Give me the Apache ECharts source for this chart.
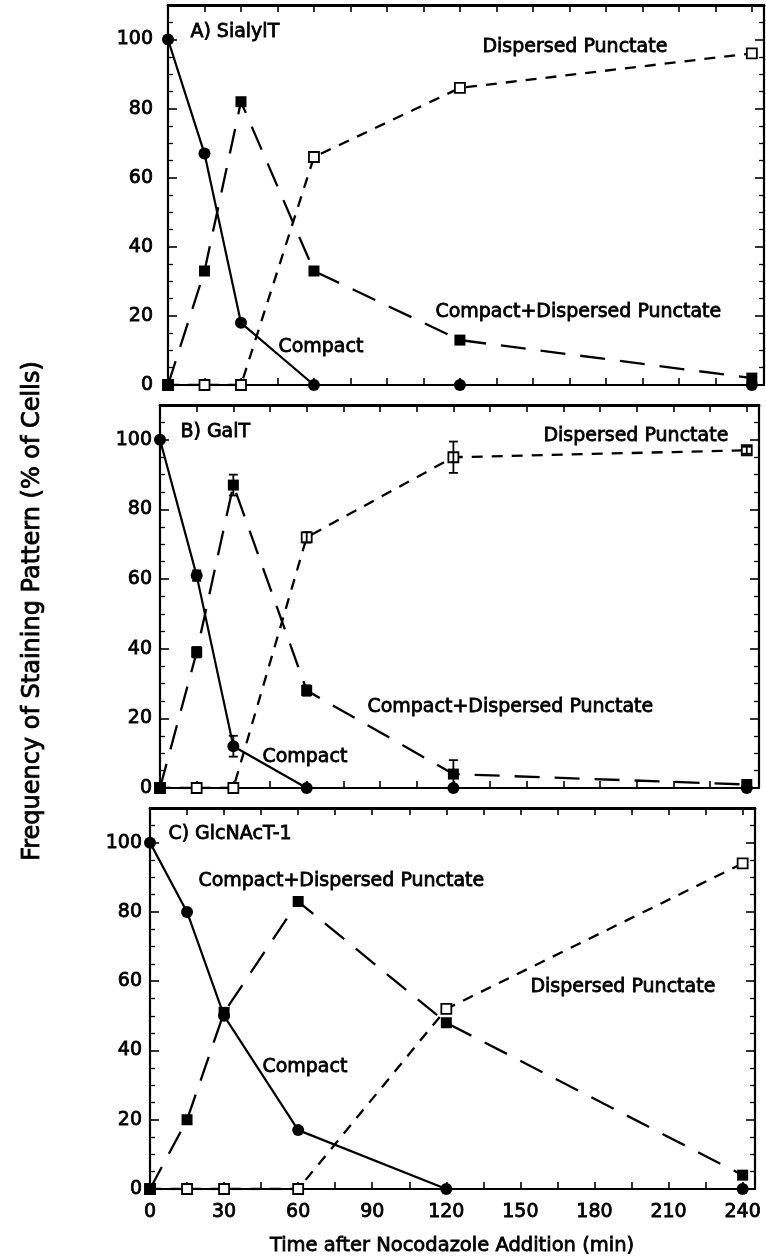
<!DOCTYPE html>
<html>
<head>
<meta charset="utf-8">
<script src="https://cdn.jsdelivr.net/npm/echarts@6/dist/echarts.min.js"></script>
<style>
  html, body { margin: 0; padding: 0; background: #fff; }
  #chart { width: 766px; height: 1257px; }
</style>
</head>
<body>
<div id="chart"></div>
<script>
// Sampling times after nocodazole addition (min)
const times = [0, 15, 30, 60, 120, 240];
const xTickLabels = [0, 30, 60, 90, 120, 150, 180, 210, 240];
const yTickLabels = [0, 20, 40, 60, 80, 100];

// A) SialylT — % of cells per staining pattern
const sialCompact = [100, 67, 18, 0, 0, 0];
const sialMixed   = [0, 33, 82, 33, 13, 2];
const sialDispersed = [0, 0, 0, 66, 86, 96];

// B) GalT
const galCompact = [100, 61, 12, 0, 0, 0];
const galMixed   = [0, 39, 87, 28, 4, 1];
const galDispersed = [0, 0, 0, 72, 95, 97];
// B) error bar half-widths
const galCompactErr = [0, 1.5, 3, 0, 0, 0];
const galMixedErr   = [0, 1.5, 3, 1.5, 4, 1];
const galDispersedErr = [0, 0, 0, 1.5, 4.5, 1];

// C) GlcNAcT-1
const glcCompact = [100, 80, 50, 17, 0, 0];
const glcMixed   = [0, 20, 51, 83, 48, 4];
const glcDispersed = [0, 0, 0, 0, 52, 94];

const panelTitles = ['A) SialylT', 'B) GalT', 'C) GlcNAcT-1'];
const nameCompact = 'Compact';
const nameMixed = 'Compact+Dispersed Punctate';
const nameDispersed = 'Dispersed Punctate';

const FONT = 'DejaVu Sans';
const INK = '#000';
const TEXT_STROKE = 0.8;   // thickens the regular face slightly

const panels = [
  { compact: sialCompact, mixed: sialMixed, dispersed: sialDispersed },
  { compact: galCompact, mixed: galMixed, dispersed: galDispersed,
    errs: [galCompactErr, galMixedErr, galDispersedErr] },
  { compact: glcCompact, mixed: glcMixed, dispersed: glcDispersed }
];

// Panel frames (pixel boxes) and y label gaps
const grids = [
  { left: 168, right: 2,  top: 5,   height: 380 },
  { left: 160, right: 7,  top: 405, height: 383 },
  { left: 150, right: 11, top: 808, height: 381 }
];
const yLabelMargins = [15, 8, 8];

const pairs = v => times.map((t, i) => [t, v[i]]);

const labelStyle = {
  color: INK, fontFamily: FONT, fontSize: 19,
  textBorderColor: INK, textBorderWidth: TEXT_STROKE
};

const xAxes = [], yAxes = [], series = [];
grids.forEach((g, gi) => {
  const isLast = gi === grids.length - 1;
  const baseX = {
    gridIndex: gi, type: 'value', min: 0, max: 245, interval: 15,
    axisLine: { show: true, onZero: false, lineStyle: { color: INK, width: 2.2 } },
    axisTick: { show: true, inside: true, length: 7, lineStyle: { color: INK, width: 1.6 } },
    splitLine: { show: false }
  };
  xAxes.push(Object.assign({}, baseX, {
    position: 'bottom',
    axisLabel: Object.assign({
      show: isLast, margin: 14,
      formatter: v => (xTickLabels.indexOf(v) >= 0 ? String(v) : '')
    }, labelStyle)
  }));
  xAxes.push(Object.assign({}, baseX, { position: 'top', axisLabel: { show: false },
    axisLine: { show: true, onZero: false, lineStyle: { color: INK, width: 2.8 } } }));

  const baseY = {
    gridIndex: gi, type: 'value', min: 0, max: 110, interval: 20,
    axisLine: { show: true, onZero: false, lineStyle: { color: INK, width: 2.2 } },
    axisTick: { show: true, inside: true, length: 9, lineStyle: { color: INK, width: 1.6 } },
    minorTick: { show: true, splitNumber: 4, length: 5, lineStyle: { color: INK, width: 1.3 } },
    splitLine: { show: false }, minorSplitLine: { show: false }
  };
  yAxes.push(Object.assign({}, baseY, {
    position: 'left',
    axisLabel: Object.assign({
      margin: yLabelMargins[gi],
      formatter: v => (yTickLabels.indexOf(v) >= 0 ? String(v) : '')
    }, labelStyle)
  }));
  yAxes.push(Object.assign({}, baseY, { position: 'right', axisLabel: { show: false } }));

  const p = panels[gi];
  const xi = gi * 2, yi = gi * 2;
  series.push({
    name: nameDispersed, type: 'line', xAxisIndex: xi, yAxisIndex: yi,
    data: pairs(p.dispersed), symbol: 'rect', symbolSize: 10,
    itemStyle: { color: '#fff', borderColor: INK, borderWidth: 1.8 },
    lineStyle: { color: INK, width: 2.3, type: [11, 9] }, z: 3
  });
  series.push({
    name: nameMixed, type: 'line', xAxisIndex: xi, yAxisIndex: yi,
    data: pairs(p.mixed), symbol: 'rect', symbolSize: 11,
    itemStyle: { color: INK, borderColor: INK, borderWidth: 0 },
    lineStyle: { color: INK, width: 2.3, type: [25, 15] }, z: 4
  });
  series.push({
    name: nameCompact, type: 'line', xAxisIndex: xi, yAxisIndex: yi,
    data: pairs(p.compact), symbol: 'circle', symbolSize: 12,
    itemStyle: { color: INK, borderColor: INK, borderWidth: 0 },
    lineStyle: { color: INK, width: 2.2 }, z: 5
  });

  if (p.errs) {
    const vals = [p.compact, p.mixed, p.dispersed];
    const errData = [];
    p.errs.forEach((arr, k) => {
      arr.forEach((e, i) => { if (e > 0) errData.push([times[i], vals[k][i], e]); });
    });
    series.push({
      type: 'custom', xAxisIndex: xi, yAxisIndex: yi, z: 6, silent: true,
      data: errData,
      renderItem: (params, api) => {
        const x = api.value(0), y = api.value(1), e = api.value(2);
        const hi = api.coord([x, y + e]);
        const lo = api.coord([x, y - e]);
        const w = 4.5;
        const st = { stroke: INK, lineWidth: 1.8 };
        return {
          type: 'group', children: [
            { type: 'line', shape: { x1: hi[0], y1: hi[1], x2: lo[0], y2: lo[1] }, style: st },
            { type: 'line', shape: { x1: hi[0] - w, y1: hi[1], x2: hi[0] + w, y2: hi[1] }, style: st },
            { type: 'line', shape: { x1: lo[0] - w, y1: lo[1], x2: lo[0] + w, y2: lo[1] }, style: st }
          ]
        };
      }
    });
  }
});

// Text annotations inside the panels
const txt = (s, x, y) => ({
  type: 'text', left: x, top: y - 11,
  style: { text: s, fill: INK, stroke: INK, lineWidth: TEXT_STROKE,
           font: '19px "' + FONT + '"' }, z: 10
});
const graphics = [
  txt(panelTitles[0], 190, 33),
  txt(nameDispersed, 482, 48),
  txt(nameMixed, 435, 313),
  txt(nameCompact, 278, 348),

  txt(panelTitles[1], 180, 433),
  txt(nameDispersed, 543, 437),
  txt(nameMixed, 367, 708),
  txt(nameCompact, 262, 758),

  txt(panelTitles[2], 168, 835),
  txt(nameMixed, 198, 882),
  txt(nameDispersed, 530, 988),
  txt(nameCompact, 262, 1068),

  {
    type: 'text', x: 33, y: 611, rotation: Math.PI / 2,
    style: { text: 'Frequency of Staining Pattern (% of Cells)', fill: INK,
             stroke: INK, lineWidth: TEXT_STROKE,
             font: '24px "' + FONT + '"', textAlign: 'center', textVerticalAlign: 'middle' }
  },
  {
    type: 'text', x: 452, y: 1246,
    style: { text: 'Time after Nocodazole Addition (min)', fill: INK,
             stroke: INK, lineWidth: TEXT_STROKE,
             font: '19.5px "' + FONT + '"', textAlign: 'center', textVerticalAlign: 'middle' }
  }
];

const chart = echarts.init(document.getElementById('chart'), null, { renderer: 'canvas' });
chart.setOption({
  animation: false,
  backgroundColor: '#fff',
  grid: grids,
  xAxis: xAxes,
  yAxis: yAxes,
  series: series,
  graphic: graphics
});
</script>
</body>
</html>
